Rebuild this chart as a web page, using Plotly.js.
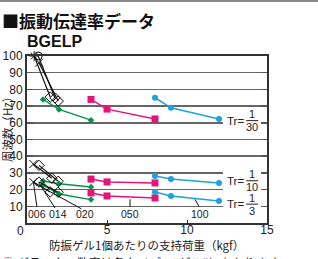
<!DOCTYPE html>
<html><head><meta charset="utf-8">
<script src="https://cdn.plot.ly/plotly-3.0.1.min.js"></script>
<style>html,body{margin:0;padding:0;background:#fff;}#chart{width:318px;height:259px;}</style>
</head><body><div id="chart"></div>
<script>
// ---- data ----
const greenX = [1, 2, 4];
const greenTr30 = [74, 68, 61.6];
const greenTr10 = [25.1, 23.5, 21.6];
const greenTr3 = [22.7, 17.4, 14];

const pinkX = [4, 5, 8];
const pinkTr30 = [74, 68.2, 62.3];
const pinkTr10 = [26.3, 24.6, 24];
const pinkTr3 = [18, 16.2, 15];

const blueX = [8, 9, 12];
const blueTr30 = [75, 69, 62.3];
const blueTr10 = [28.1, 26.3, 24];
const blueTr3 = [18.6, 16.2, 13.2];

// black curves (start -> end)
const blackA_X = [0.45, 1.45], blackA_Y = [100, 75.4];
const blackB_X = [0.7, 1.75],  blackB_Y = [100, 74.9];
const blackC_X = [0.75, 1.95], blackC_Y = [96, 73];
const blackD_X = [0.4, 1.55],  blackD_Y = [35.3, 26.8];
const blackE_X = [0.75, 1.95], blackE_Y = [34.5, 25];
const blackF_X = [0.4, 1.45],  blackF_Y = [24.5, 18.6];
const blackG_X = [0.75, 1.95], blackG_Y = [24.5, 18.4];

const modelLabels = ["006", "014", "020", "050", "100"];
const modelLabelX = [0.62, 1.94, 3.62, 6.44, 10.8];
const trDenoms = ["30", "10", "3"];
const trBarY = [61.3, 25.3, 11.3];

const xTickVals = [5, 10, 15];
const yTickVals = [10, 20, 30, 40, 50, 60, 70, 80, 90, 100];

// ---- styles ----
const GREEN = 'rgb(0,150,70)', PINK = 'rgb(228,20,120)', BLUE = 'rgb(30,160,225)';
const NUMF = 'Liberation Sans, Arial, sans-serif';
const JPF = 'Noto Sans CJK JP, sans-serif';

const traces = [];
function series(x, y, color, symbol, size) {
  traces.push({x: x, y: y, type: 'scatter', mode: 'lines+markers', cliponaxis: false,
    line: {color: color, width: 1.5}, marker: {color: color, symbol: symbol, size: size},
    showlegend: false, hoverinfo: 'skip'});
}
series(greenX, greenTr30, GREEN, 'diamond', 5);
series(greenX, greenTr10, GREEN, 'diamond', 5);
series(greenX, greenTr3, GREEN, 'diamond', 5);
series(pinkX, pinkTr30, PINK, 'square', 7);
series(pinkX, pinkTr10, PINK, 'square', 7);
series(pinkX, pinkTr3, PINK, 'square', 7);
series(blueX, blueTr30, BLUE, 'circle', 6);
series(blueX, blueTr10, BLUE, 'circle', 6);
series(blueX, blueTr3, BLUE, 'circle', 6);

function black(x, y, startSym) {
  traces.push({x: x, y: y, type: 'scatter', mode: 'lines+markers', cliponaxis: false,
    line: {color: '#111', width: 1.2},
    marker: {symbol: [startSym, 'diamond-open'], size: 8, color: '#111', line: {color: '#111', width: 1}},
    showlegend: false, hoverinfo: 'skip'});
}
black(blackA_X, blackA_Y, 'asterisk-open');
black(blackB_X, blackB_Y, 'circle-open');
black(blackC_X, blackC_Y, 'x-thin-open');
black(blackD_X, blackD_Y, 'x-thin-open');
black(blackE_X, blackE_Y, 'diamond-open');
black(blackF_X, blackF_Y, 'x-thin-open');
black(blackG_X, blackG_Y, 'diamond-open');

const annotations = [];
const shapes = [];

// white patches where Tr labels sit (between grid and traces)
shapes.push({type: 'rect', layer: 'between', xref: 'x', yref: 'y', x0: 12.25, x1: 14.65, y0: 0.5, y1: 35.5, fillcolor: '#fff', line: {width: 0}});
shapes.push({type: 'rect', layer: 'between', xref: 'x', yref: 'y', x0: 12.25, x1: 14.65, y0: 55, y1: 67, fillcolor: '#fff', line: {width: 0}});

for (let i = 0; i < trDenoms.length; i++) {
  annotations.push({x: 13.0, y: trBarY[i], xref: 'x', yref: 'y', text: 'Tr=', showarrow: false,
    font: {family: NUMF, size: 11.5, color: '#222'}, xanchor: 'center', yanchor: 'middle'});
  annotations.push({x: 14.06, y: trBarY[i], xref: 'x', yref: 'y', yshift: 6.5, text: '1', showarrow: false,
    font: {family: NUMF, size: 11, color: '#222'}, xanchor: 'center', yanchor: 'middle'});
  annotations.push({x: 14.06, y: trBarY[i], xref: 'x', yref: 'y', yshift: -6.5, text: trDenoms[i], showarrow: false,
    font: {family: NUMF, size: 11, color: '#222'}, xanchor: 'center', yanchor: 'middle'});
  shapes.push({type: 'line', xref: 'x', yref: 'y', x0: 13.7, x1: 14.45, y0: trBarY[i], y1: trBarY[i], line: {color: '#222', width: 1}});
}

// model labels
for (let i = 0; i < modelLabels.length; i++) {
  annotations.push({x: modelLabelX[i], y: 5.2, xref: 'x', yref: 'y', text: modelLabels[i], showarrow: false,
    font: {family: NUMF, size: 10.5, color: '#222'}, xanchor: 'center', yanchor: 'middle'});
}
// leader lines
function leader(x0, y0, x1, y1) {
  shapes.push({type: 'line', xref: 'x', yref: 'y', x0: x0, y0: y0, x1: x1, y1: y1, line: {color: '#111', width: 1}});
}
leader(0.4, 24.5, 0.62, 9.6);
leader(0.72, 24.3, 1.75, 9.0);
leader(1.3, 19.5, 3.4, 8.5);
leader(6.44, 14.2, 6.44, 9.6);
leader(10.5, 14.2, 10.75, 9.8);

// x "0" label
annotations.push({x: -0.029, y: (223-231)/167, xref: 'paper', yref: 'paper', text: '0', showarrow: false,
  font: {family: NUMF, size: 12, color: '#222'}, xanchor: 'center', yanchor: 'middle'});

// titles
annotations.push({x: -27/240, y: (223-20)/167, xref: 'paper', yref: 'paper', text: '<b>■振動伝達率データ</b>', showarrow: false,
  font: {family: JPF, size: 17, color: '#111'}, xanchor: 'left', yanchor: 'middle'});
annotations.push({x: (25-27)/240, y: (223-41)/167, xref: 'paper', yref: 'paper', text: '<b>BGELP</b>', showarrow: false,
  font: {family: 'Liberation Sans, Arial, sans-serif', size: 16, color: '#111'}, xanchor: 'left', yanchor: 'middle'});
annotations.push({x: (7-27)/240, y: (223-127)/167, xref: 'paper', yref: 'paper', text: '周波数（Hz）', showarrow: false, textangle: -90,
  font: {family: JPF, size: 11.5, color: '#222'}, xanchor: 'center', yanchor: 'middle'});
annotations.push({x: (146-27)/240, y: (223-245)/167, xref: 'paper', yref: 'paper', text: '防振ゲル1個あたりの支持荷重（kgf）', showarrow: false,
  font: {family: JPF, size: 11.5, color: '#222'}, xanchor: 'center', yanchor: 'middle'});
annotations.push({x: (0-27)/240, y: (223-262)/167, xref: 'paper', yref: 'paper',
  text: '<span style="color:' + PINK + '">①</span> グラフ上の数字は各タイプの“ゲル”にあたります', showarrow: false,
  font: {family: JPF, size: 12, color: '#222'}, xanchor: 'left', yanchor: 'middle'});

// top gray bar
shapes.push({type: 'rect', xref: 'paper', yref: 'paper', x0: -27/240, x1: 291/240, y0: (223-2)/167, y1: 223/167 + 0.01,
  fillcolor: '#8a8a8a', line: {width: 0}});

const layout = {
  width: 318, height: 259,
  margin: {l: 27, r: 51, t: 56, b: 36, pad: 0},
  paper_bgcolor: '#fff', plot_bgcolor: '#fff',
  showlegend: false,
  xaxis: {range: [0, 15], tickvals: xTickVals, ticktext: xTickVals.map(String), ticks: 'inside', ticklen: 3, tickcolor: '#222',
    ticklabelstandoff: -5,
    showgrid: false, zeroline: false, showline: true, linecolor: '#333', linewidth: 2, mirror: true,
    tickfont: {family: NUMF, size: 12, color: '#222'}},
  yaxis: {range: [0, 100], tickvals: yTickVals, ticks: 'inside', ticklen: 6, tickcolor: '#555', tickwidth: 1.5,
    showgrid: true, gridcolor: '#666', gridwidth: 1.5, zeroline: false, showline: true, linecolor: '#333', linewidth: 2, mirror: 'ticks',
    tickfont: {family: NUMF, size: 12, color: '#222'}},
  annotations: annotations,
  shapes: shapes
};
Plotly.newPlot('chart', traces, layout, {staticPlot: true, displayModeBar: false});
</script>
</body></html>
